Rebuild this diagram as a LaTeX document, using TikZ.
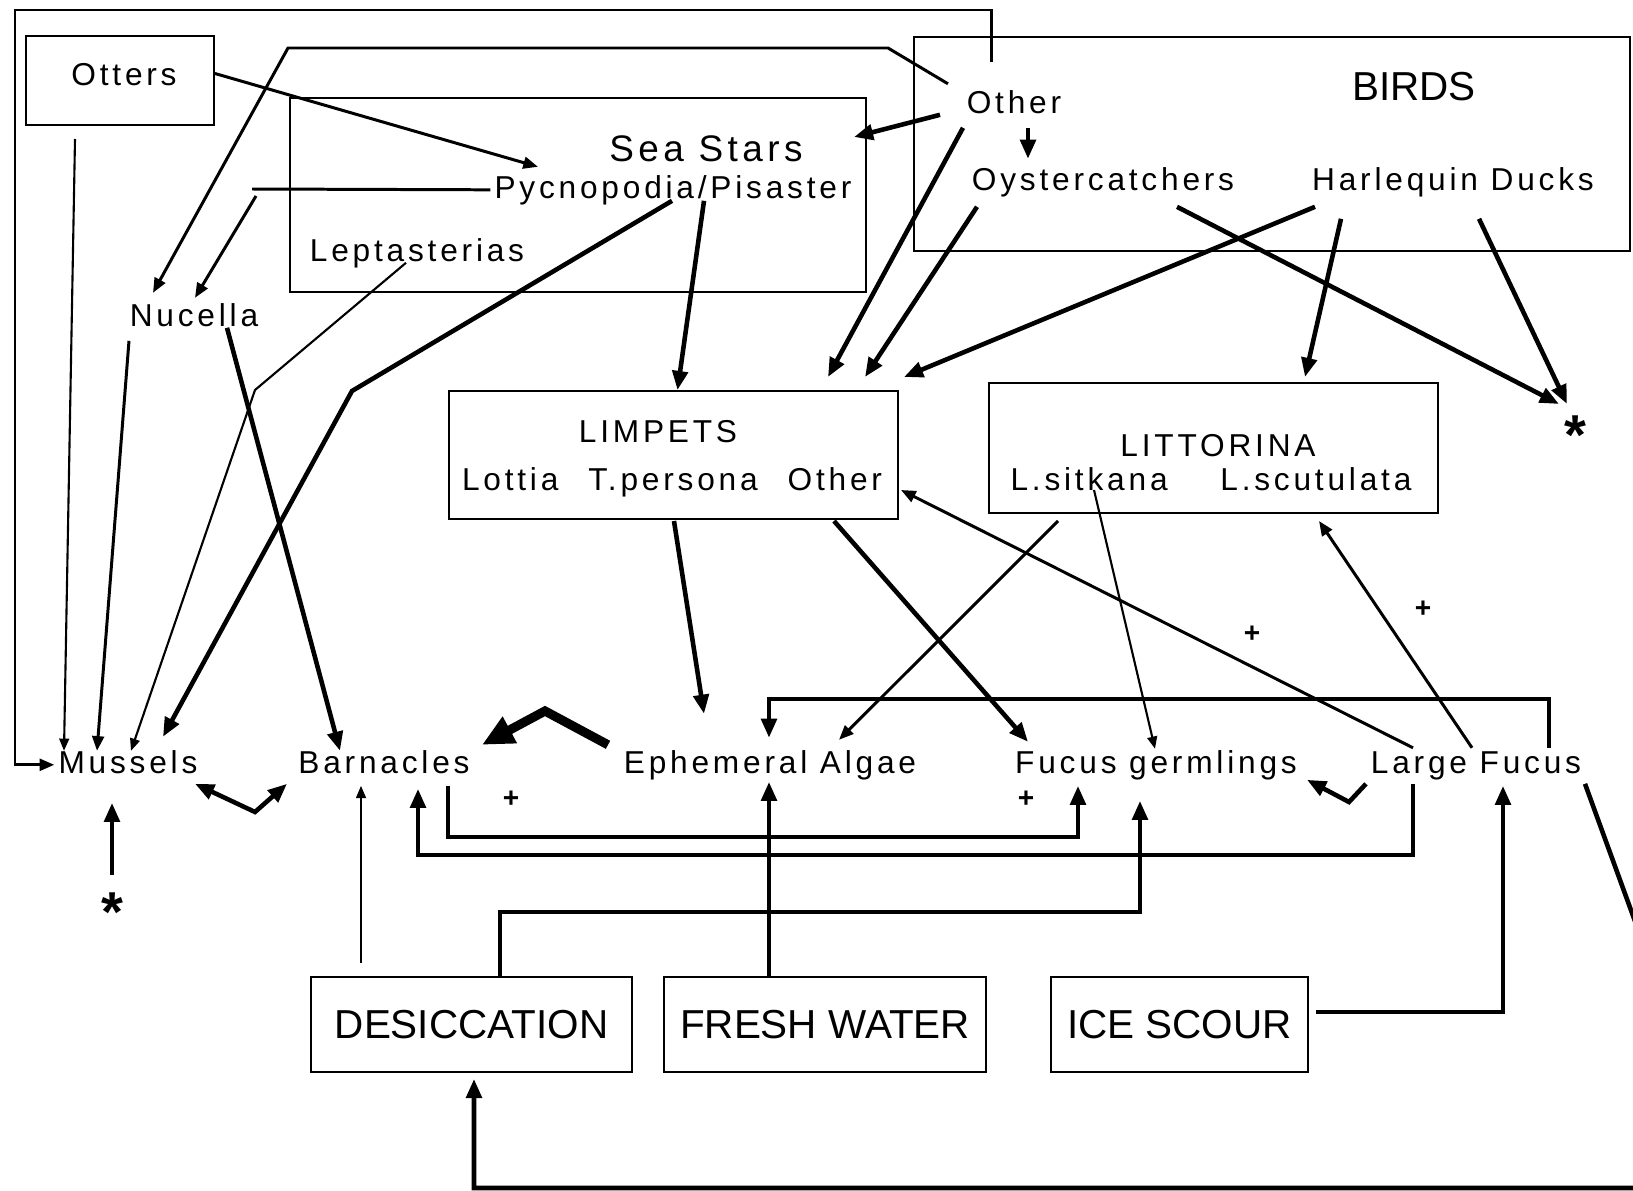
\documentclass[tikz,border=0pt]{standalone}
\usepackage{fontspec}
\setmainfont{Liberation Sans}[LetterSpace=12]
\newfontfamily\capsfont{Liberation Sans}
\usetikzlibrary{arrows.meta,calc}

\begin{document}
\begin{tikzpicture}[x=0.01cm,y=-0.01cm,>={Triangle[length=1.8pt 2.8 0,width'=0pt .8]},
 font=\fontsize{9}{11}\selectfont,
 frame/.style={draw,line width=.5pt,inner sep=0pt},
 lbl/.style={inner sep=1pt,text height=7pt,text depth=2pt,yshift=-.8pt},
 hdr/.style={font=\capsfont\fontsize{11.5}{13}\selectfont,inner sep=1pt},
 plus/.style={font=\bfseries\fontsize{8}{8}\selectfont,inner sep=0pt},
 star/.style={font=\bfseries\fontsize{16}{16}\selectfont,inner sep=0pt},
 thk/.style={line width=1.3pt},
 mid/.style={line width=.85pt},
 thn/.style={line width=.6pt}]
\path[fill=white,use as bounding box] (0,0) rectangle (1633,1191);

% boxes
\node[frame,minimum width=1.88cm,minimum height=.89cm] (otters) at (120,80.5) {};
\node[frame,minimum width=5.76cm,minimum height=1.94cm] (stars) at (578,195) {};
\node[frame,minimum width=7.16cm,minimum height=2.14cm] (birds) at (1272,144) {};
\node[frame,minimum width=4.49cm,minimum height=1.28cm] (limp) at (673.5,455) {};
\node[frame,minimum width=4.49cm,minimum height=1.30cm] (litt) at (1213.5,448) {};
\node[frame,hdr,minimum width=3.21cm,minimum height=.95cm] (desic) at (471.5,1024.5) {DESICCATION};
\node[frame,hdr,minimum width=3.22cm,minimum height=.95cm] (fresh) at (825,1024.5) {FRESH WATER};
\node[frame,hdr,minimum width=2.57cm,minimum height=.95cm] (ice) at (1179.5,1024.5) {ICE SCOUR};

% labels
\node[lbl] (ottlbl) at (124,74) {Otters};
\node[font=\fontsize{10.5}{12}\selectfont] (seastars) at (706,149) {Sea Stars};
\node[lbl] (pyc) at (673,187) {Pycnopodia/Pisaster};
\node[lbl] (lept) at (417,250) {Leptasterias};
\node[hdr] (birdlbl) at (1414,87) {BIRDS};
\node[lbl] (other) at (1014,102) {Other};
\node[lbl] (oyster) at (1103,179) {Oystercatchers};
\node[lbl] (harl) at (1453,179) {Harlequin Ducks};
\node[lbl] (nuc) at (194,315) {Nucella};
\node[lbl] (limplbl) at (658,431) {LIMPETS};
\node[lbl] (limpsp) at (672,479) {Lottia\hspace{8.5pt}T.persona\hspace{8.5pt}Other};
\node[lbl] (littlbl) at (1218,445) {LITTORINA};
\node[lbl] (littsp) at (1211,479) {L.sitkana\hspace{15pt}L.scutulata};
\node[star] (star1) at (1575,435) {*};
\node[lbl] (mus) at (128,762) {Mussels};
\node[lbl] (barn) at (384,762) {Barnacles};
\node[lbl] (ephem) at (770,762) {Ephemeral Algae};
\node[lbl] (fgerm) at (1156,762) {Fucus germlings};
\node[lbl] (lfuc) at (1476,762) {Large Fucus};
\node[star] (star2) at (112,912) {*};
\node[plus] (p1) at (511,799) {+};
\node[plus] (p2) at (1026,799) {+};
\node[plus] (p3) at (1252,634) {+};
\node[plus] (p4) at (1423,609) {+};

% predators
\draw[mid,->] ($(other)+(-23,-43)$) |- (15,10) |- (mus.west);
\draw[mid,->] ($(other)+(-66,-21)$) -- (888,48) -- (288,48) -- ($(nuc)+(-41,-25)$);
\draw[mid,->] ($(otters.east)+(0,-7)$) -- ($(pyc)+(-135,-23)$);
\draw[mid] (pyc.west) -- (252,189);
\draw[mid,->] (256,196) -- ($(nuc)+(1,-20)$);
\draw[thn,->] ($(lept)+(-11,10)$) -- (255,390) -- ($(mus)+(3,-14)$);
\draw[thk,->] ($(pyc)+(-1,11)$) -- (352,391) -- ($(mus)+(35,-28)$);
\draw[thk,->] ($(pyc)+(31,11)$) -- ($(limp.north)+(4,0)$);
\draw[thk,->] ($(other)+(-74,10)$) -- ($(stars)+(276,-58)$);
\draw[thk,->] ($(other)+(14,23)$) -- ($(oyster)+(-75,-23)$);
\draw[thk,->] ($(other)+(-51,23)$) -- ($(limp)+(154.5,-78)$);
\draw[thk,->] ($(oyster)+(-126,25)$) -- ($(limp)+(191.5,-78)$);
\draw[thk,->] ($(harl)+(-138,25)$) -- ($(limp)+(230.5,-78)$);
\draw[thk,->] ($(oyster)+(74,25)$) -- ($(star1)+(-16,-31)$);
\draw[thk,->] ($(harl)+(-112,37)$) -- ($(litt)+(91.5,-71)$);
\draw[thk,->] ($(harl)+(26,37)$) -- ($(star1)+(-8,-31)$);
\draw[mid,->] ($(nuc)+(-65,23)$) -- ($(mus)+(-31,-14)$);
\draw[thn,->] ($(otters)+(-45,58.5)$) -- ($(mus)+(-64,-14)$);
\draw[thk,->] ($(nuc)+(33,10)$) -- ($(barn)+(-44,-14)$);
\draw[thk,->] ($(star2)+(0,-37)$) -- ($(mus)+(-16,38)$);

% grazers and algae
\draw[thk,<->] ($(mus)+(67,19)$) -- (255,812) -- ($(barn)+(-97,19)$);
\draw[line width=2.6pt,-{Triangle[length=9pt,width=8pt]}] ($(ephem)+(-162,-20)$) -- (545,711) -- ($(barn)+(98,-20)$);
\draw[thk,->] ($(limp)+(0.5,66)$) -- ($(ephem)+(-66,-51)$);
\draw[thk,->] ($(limp)+(160.5,66)$) -- ($(fgerm)+(-128,-23)$);
\draw[mid,->] ($(litt)+(-155.5,73)$) -- ($(ephem)+(69,-25)$);
\draw[thn,->] ($(litt)+(-119.5,42)$) -- ($(fgerm)+(-1,-16)$);
\draw[mid,->] ($(lfuc)+(-63,-17)$) -- ($(limp)+(227.5,35)$);
\draw[mid,->] ($(lfuc)+(-4,-17)$) -- ($(litt)+(105.5,73)$);
\draw[thk,->] ($(lfuc)+(73,-17)$) -- ++(0,-49) -| ($(ephem)+(-1,-27)$);
\draw[thk,->] ($(lfuc)+(-110,19)$) -- (1349,802) -- ($(fgerm)+(151,15)$);
\draw[thk,->] ($(lfuc)+(-63,19)$) -- ++(0,71) -| ($(barn)+(34,24)$);
\draw[thk,->] ($(barn)+(64,21)$) -- ++(0,51) -| ($(fgerm)+(-78,21)$);

% physical factors
\draw[thn,->] ($(desic)+(-110.5,-61.5)$) -- ($(barn)+(-23,21)$);
\draw[thk,->] ($(desic.north)+(28.5,0)$) -- ++(0,-64) -| ($(fgerm)+(-16,36)$);
\draw[thk,->] ($(fresh.north)+(-56,0)$) -- ($(ephem)+(-1,17)$);
\draw[thk,->] ($(ice.east)+(7,-12.5)$) -| ($(lfuc)+(27,21)$);
\draw[thk,->] ($(lfuc)+(109,19)$) -- (1680,1045) |- (474,1188) -- ($(desic.south)+(2.5,6)$);
\end{tikzpicture}
\end{document}
